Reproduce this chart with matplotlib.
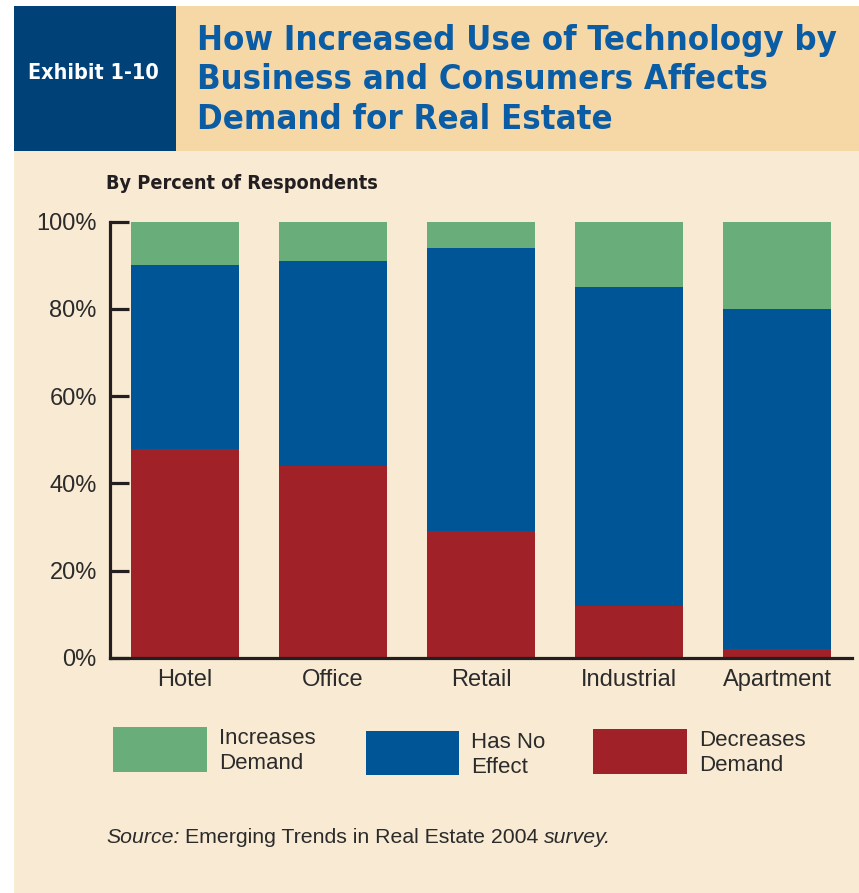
import numpy as np
import matplotlib
matplotlib.use('Agg')
import matplotlib.pyplot as plt
from matplotlib.patches import Rectangle

plt.rcParams['font.family'] = ['Liberation Sans', 'DejaVu Sans']

# Survey shares, percent of respondents
categories = ['Hotel', 'Office', 'Retail', 'Industrial', 'Apartment']
decreases = [48, 44, 29, 12, 2]
no_effect = [42, 47, 65, 73, 78]
increases = [10, 9, 6, 15, 20]
series_labels = ['Increases\nDemand', 'Has No\nEffect', 'Decreases\nDemand']
y_ticks = [0, 20, 40, 60, 80, 100]

GREEN = '#69AD7B'
BLUE = '#005596'
RED = '#A02128'
NAVY = '#004178'
HEADER = '#F5D8A6'
CREAM = '#F9EAD3'
INK = '#231F20'
TEXT = '#2B2B2B'
TITLE_BLUE = '#0A5CA5'
HEAVY = dict(family='DejaVu Sans', weight='bold', stretch='condensed')

W, H = 859, 893
fig = plt.figure(figsize=(W / 100, H / 100), dpi=100, facecolor='white')


def box(x0, y0, x1, y1, color):
    # rectangle given in pixels from the top-left corner
    fig.add_artist(Rectangle((x0 / W, 1 - y1 / H), (x1 - x0) / W, (y1 - y0) / H,
                             transform=fig.transFigure, facecolor=color,
                             edgecolor='none', zorder=0))


def label(x, y, s, **kw):
    return fig.text(x / W, 1 - y / H, s, **kw)


# background panels
box(14, 151, 859, 893, CREAM)
box(14, 6, 176, 151, NAVY)
box(176, 6, 859, 151, HEADER)

label(93, 79, 'Exhibit 1-10', color='white', fontsize=15.5, ha='center',
      va='baseline', **HEAVY)
title_lines = ['How Increased Use of Technology by',
               'Business and Consumers Affects',
               'Demand for Real Estate']
for line, base in zip(title_lines, [50, 89, 129]):
    label(197, base, line, color=TITLE_BLUE, fontsize=24.8, ha='left',
          va='baseline', **HEAVY)

label(106, 189, 'By Percent of Respondents', color=INK, fontsize=14.2,
      ha='left', va='baseline', **HEAVY)

# stacked bars
ax = fig.add_axes([110 / W, 1 - 658 / H, 742 / W, (658 - 221.7) / H])
ax.set_facecolor('none')
x = np.arange(len(categories))
width = 0.726
ax.bar(x, decreases, width, color=RED, zorder=2)
ax.bar(x, no_effect, width, bottom=decreases, color=BLUE, zorder=2)
ax.bar(x, increases, width, bottom=np.add(decreases, no_effect), color=GREEN, zorder=2)

ax.set_xlim(-0.507, 4.507)
ax.set_ylim(0, 100)
ax.set_xticks(x)
ax.set_xticklabels(categories)
ax.set_yticks(y_ticks)
ax.set_yticklabels([f'{v}%' for v in y_ticks])
for side in ['top', 'right']:
    ax.spines[side].set_visible(False)
for side in ['left', 'bottom']:
    ax.spines[side].set_linewidth(2.3)
    ax.spines[side].set_color(INK)
    ax.spines[side].set_zorder(3)
ax.tick_params(axis='y', direction='in', length=13.5, width=2.3, color=INK,
               pad=9.5, labelsize=17, labelcolor=TEXT)
ax.tick_params(axis='x', length=0, pad=8, labelsize=17, labelcolor=TEXT)

# legend
legend_items = [
    (113, 727, 207, 772, GREEN, 219, 751),
    (366, 731, 459, 775, BLUE, 471, 755),
    (593, 729, 687, 774, RED, 699, 753),
]
for (x0, y0, x1, y1, col, tx, ty), text in zip(legend_items, series_labels):
    box(x0, y0, x1, y1, col)
    label(tx, ty, text, color=TEXT, fontsize=16, ha='left', va='center',
          linespacing=1.2)

# source note
src = label(106, 843, 'Source:', color=TEXT, fontsize=15.3, style='italic',
            ha='left', va='baseline')
mid = ax.annotate('Emerging Trends in Real Estate 2004', xy=(1, 0), xycoords=src,
                  xytext=(4, 0), textcoords='offset points', color=TEXT,
                  fontsize=15.3, ha='left', va='bottom', annotation_clip=False)
ax.annotate('survey.', xy=(1, 0), xycoords=mid, xytext=(4, 0),
            textcoords='offset points', color=TEXT, fontsize=15.3, style='italic',
            ha='left', va='bottom', annotation_clip=False)

fig.savefig('out.png', dpi=100, facecolor='white')
